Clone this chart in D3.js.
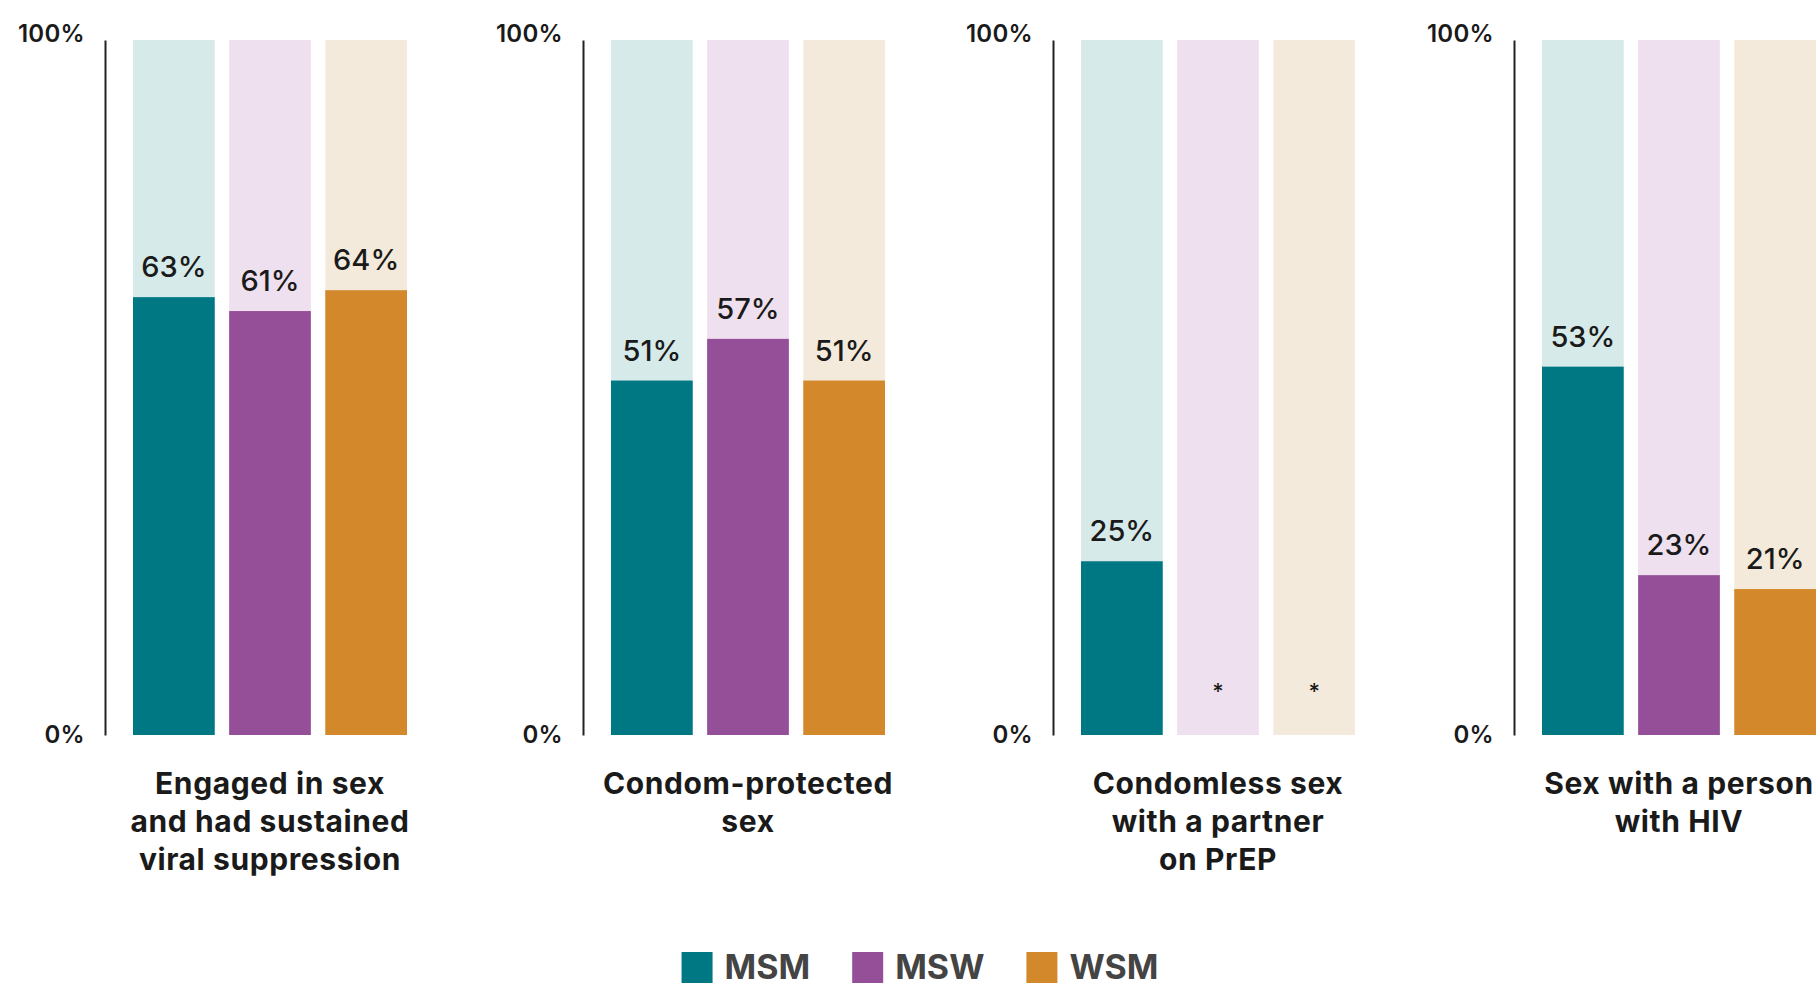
<!DOCTYPE html>
<html>
<head>
<meta charset="utf-8">
<script src="https://cdn.jsdelivr.net/npm/d3@7"></script>
<style>
  html, body { margin: 0; padding: 0; background: #fff; }
  svg { display: block; font-family: Inter, "Open Sans", sans-serif; }
</style>
</head>
<body>
<svg id="chart" width="1818" height="987"></svg>
<script>
// Share of each group reporting each behaviour (percent); null = suppressed estimate (*)
const categories = [
  ["Engaged in sex", "and had sustained", "viral suppression"],
  ["Condom-protected", "sex"],
  ["Condomless sex", "with a partner", "on PrEP"],
  ["Sex with a person", "with HIV"]
];
const groups = ["MSM", "MSW", "WSM"];
const msmValues = [63, 51, 25, 53];
const mswValues = [61, 57, null, 23];
const wsmValues = [64, 51, null, 21];
const tickValues = [0, 100];

const seriesByGroup = { MSM: msmValues, MSW: mswValues, WSM: wsmValues };
const solid = { MSM: "#007884", MSW: "#954f99", WSM: "#d3882b" };
const light = { MSM: "#d6eae9", MSW: "#efe0ef", WSM: "#f4eadb" };

const svg = d3.select("#chart");

// Panel layout: x position of each panel's vertical axis
const panelAxisX = [105, 583, 1053, 1514];
const y = d3.scaleLinear().domain([0, 100]).range([735, 40]);

categories.forEach((lines, i) => {
  const ax = panelAxisX[i];
  const g = svg.append("g");

  const x = d3.scaleBand()
    .domain(groups)
    .range([ax + 28, ax + 302])
    .paddingInner(0.15);

  // Axis with 0% and 100% labels
  const axis = d3.axisLeft(y)
    .tickValues(tickValues)
    .tickFormat(d => d + "%")
    .tickSize(0)
    .tickPadding(20);
  const ag = g.append("g").attr("transform", `translate(${ax},0)`).call(axis);
  ag.select(".domain").attr("stroke", "#222").attr("stroke-width", 2);
  ag.selectAll(".tick text")
    .attr("font-family", "Inter, sans-serif")
    .attr("font-size", 24)
    .attr("font-weight", 600)
    .attr("letter-spacing", 0.3)
    .attr("fill", "#1a1a1a")
    .attr("dy", d => d === 100 ? "0.05em" : "0.3em");

  const rows = groups.map(k => ({ key: k, value: seriesByGroup[k][i] }));

  // Full-height background bars
  g.selectAll(".bg").data(rows).join("rect")
    .attr("x", d => x(d.key))
    .attr("width", x.bandwidth())
    .attr("y", y(100))
    .attr("height", y(0) - y(100))
    .attr("fill", d => light[d.key]);

  // Value bars
  g.selectAll(".val").data(rows.filter(d => d.value != null)).join("rect")
    .attr("x", d => x(d.key))
    .attr("width", x.bandwidth())
    .attr("y", d => y(d.value))
    .attr("height", d => y(0) - y(d.value))
    .attr("fill", d => solid[d.key]);

  // Value labels
  g.selectAll(".lbl").data(rows.filter(d => d.value != null)).join("text")
    .attr("x", d => x(d.key) + x.bandwidth() / 2)
    .attr("y", d => y(d.value) - 20)
    .attr("text-anchor", "middle")
    .attr("font-size", 29)
    .attr("font-weight", 500)
    .attr("fill", "#1a1a1a")
    .text(d => d.value + "%");

  // Asterisks for suppressed estimates
  g.selectAll(".star").data(rows.filter(d => d.value == null)).join("text")
    .attr("x", d => x(d.key) + x.bandwidth() / 2)
    .attr("y", y(0) - 36)
    .attr("text-anchor", "middle")
    .attr("font-size", 22)
    .attr("font-weight", 500)
    .attr("fill", "#1a1a1a")
    .text("*");

  // Category label under the bars
  const cx = (x.range()[0] + x.range()[1]) / 2;
  const t = g.append("text")
    .attr("x", cx)
    .attr("y", 794)
    .attr("text-anchor", "middle")
    .attr("font-size", 30)
    .attr("font-weight", 700)
    .attr("letter-spacing", 0.6)
    .attr("fill", "#1a1a1a");
  lines.forEach((ln, j) => {
    t.append("tspan").attr("x", cx).attr("y", 794 + j * 38).text(ln);
  });
});

// Legend
const legend = svg.append("g");
const items = legend.selectAll("g").data(groups).join("g");
items.append("rect")
  .attr("width", 31).attr("height", 31)
  .attr("y", 952)
  .attr("fill", d => solid[d]);
items.append("text")
  .attr("x", 43)
  .attr("y", 979)
  .attr("font-size", 34)
  .attr("font-weight", 700)
  .attr("fill", "#444")
  .text(d => d);
let cursor = 0;
const widths = [];
items.each(function () {
  widths.push(43 + this.querySelector("text").getComputedTextLength());
});
const gap = 42;
const total = d3.sum(widths) + gap * (widths.length - 1);
cursor = 920 - total / 2;
items.attr("transform", (d, i) => {
  const tx = cursor;
  cursor += widths[i] + gap;
  return `translate(${tx},0)`;
});
</script>
</body>
</html>
